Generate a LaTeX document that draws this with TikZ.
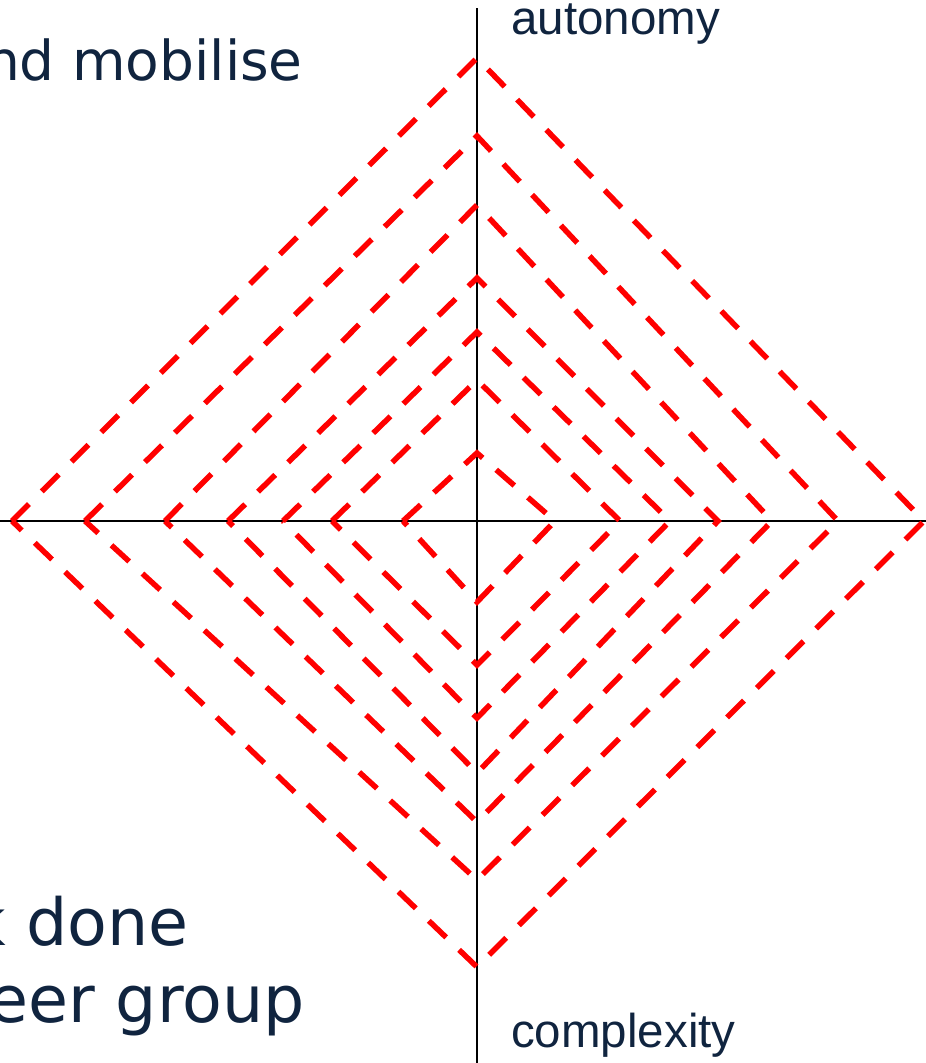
\documentclass[tikz,border=0pt]{standalone}
\usepackage{fontspec}
\setmainfont{Liberation Sans}
\newfontfamily\slidefont{DejaVu Sans}
\definecolor{navy}{HTML}{10243F}
\definecolor{dashred}{HTML}{FF0000}

\begin{document}
\begin{tikzpicture}[x=1pt, y=-1pt]
  \def\pw{926} \def\ph{1063}
  \def\cx{477} \def\cy{521}
  \useasboundingbox (0,0) rectangle (\pw,\ph);
  \clip (0,0) rectangle (\pw,\ph);

  % Axes
  \coordinate (ytop) at (\cx,8);
  \coordinate (ybot) at (\cx,\ph);
  \coordinate (xleft) at (0,\cy);
  \coordinate (xright) at (\pw,\cy);
  \draw[black, line width=2.5pt] (ytop) -- (ybot);
  \draw[black, line width=2.5pt] (xleft) -- (xright);

  % Nested diamonds: top / right / bottom / left
  \foreach \t/\r/\b/\l in {58/924/967/12, 136/838/880/85, 205/772/822/165,
                            278/718/773/228, 332/670/718/283, 380/620/665/332,
                            453/555/602/403} {
    \draw[dashred, line width=5.5pt, dash pattern=on 24pt off 18pt]
      (\l,\cy) -- (\cx,\t) -- (\r,\cy) -- (\cx,\b) -- cycle;
  }

  % Axis labels
  \node[anchor=base west, inner sep=0, font=\fontsize{47.5}{56}\selectfont, text=navy] (autonomy) at (511,34) {autonomy};
  \node[anchor=base west, inner sep=0, font=\fontsize{47.5}{56}\selectfont, text=navy] (complexity) at (511,1047) {complexity};

  % Slide text cut at the left edge
  \node[anchor=base east, inner sep=0, font=\slidefont\fontsize{55}{66}\selectfont, text=navy] (mobilise) at (303,80) {nd mobilise};
  \node[anchor=base east, inner sep=0, font=\slidefont\fontsize{65}{77}\selectfont, text=navy] (done) at (189,945) {k done};
  \node[anchor=base east, inner sep=0, font=\slidefont\fontsize{65}{77}\selectfont, text=navy] (group) at (305,1022) {eer group};
\end{tikzpicture}
\end{document}
